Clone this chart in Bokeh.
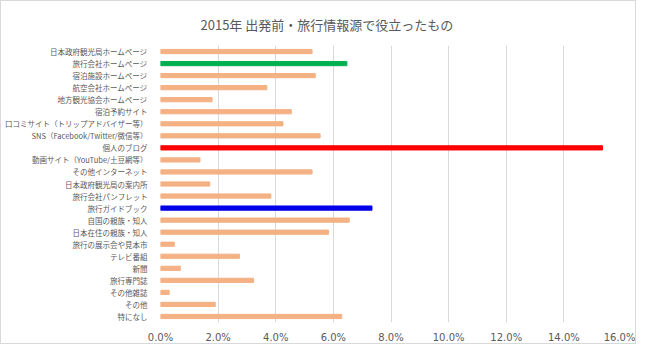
from bokeh.plotting import figure
from bokeh.models import FactorRange, Range1d, FixedTicker, NumeralTickFormatter, ColumnDataSource
from bokeh.embed import file_html
from bokeh.resources import INLINE

title_text = "2015年 出発前・旅行情報源で役立ったもの"

categories = [
    "日本政府観光局ホームページ",
    "旅行会社ホームページ",
    "宿泊施設ホームページ",
    "航空会社ホームページ",
    "地方観光協会ホームページ",
    "宿泊予約サイト",
    "口コミサイト（トリップアドバイザー等）",
    "SNS（Facebook/Twitter/微信等）",
    "個人のブログ",
    "動画サイト（YouTube/土豆網等）",
    "その他インターネット",
    "日本政府観光局の案内所",
    "旅行会社パンフレット",
    "旅行ガイドブック",
    "自国の親族・知人",
    "日本在住の親族・知人",
    "旅行の展示会や見本市",
    "テレビ番組",
    "新聞",
    "旅行専門誌",
    "その他雑誌",
    "その他",
    "特になし",
]

values = [
    0.0526, 0.0647, 0.0537, 0.0369, 0.0179, 0.0454, 0.0425, 0.0554,
    0.1534, 0.0137, 0.0526, 0.0171, 0.0383, 0.0734, 0.0655, 0.0583,
    0.0048, 0.0274, 0.0069, 0.0323, 0.0030, 0.0190, 0.0629,
]

x_ticks = [0.0, 0.02, 0.04, 0.06, 0.08, 0.10, 0.12, 0.14, 0.16]

base_color = "#F4B183"
highlight = {
    "旅行会社ホームページ": "#00B050",
    "個人のブログ": "#FF0000",
    "旅行ガイドブック": "#0000E8",
}
colors = [highlight.get(c, base_color) for c in categories]

source = ColumnDataSource(dict(cat=categories, val=values, color=colors))

p = figure(
    width=636, height=344,
    y_range=FactorRange(factors=list(reversed(categories))),
    x_range=Range1d(0, 0.16),
    output_backend="svg", toolbar_location=None,
    min_border_left=159, min_border_right=16,
    min_border_top=43, min_border_bottom=16,
    background_fill_color="white", border_fill_color="white",
    styles={"border": "1px solid #D9D9D9"},
)

p.hbar(y="cat", right="val", left=0, height=0.35, color="color", source=source)

p.title.text = title_text
p.title.align = "left"
p.title.offset = 40
p.title.standoff = 23
p.title.text_font = "Noto Sans CJK JP"
p.title.text_font_size = "13px"
p.title.text_font_style = "normal"
p.title.text_color = "#595959"

p.outline_line_color = None
p.ygrid.grid_line_color = None
p.xgrid.grid_line_color = "#D9D9D9"
p.xgrid.grid_line_width = 1

p.xaxis.ticker = FixedTicker(ticks=x_ticks)
p.xaxis.formatter = NumeralTickFormatter(format="0.0%")
for ax in (p.xaxis, p.yaxis):
    ax.axis_line_color = None
    ax.major_tick_line_color = None
    ax.minor_tick_line_color = None
    ax.major_label_text_color = "#595959"
p.yaxis.major_label_text_font = "Noto Sans CJK JP"
p.xaxis.major_label_text_font = "DejaVu Sans"
p.xaxis.major_label_text_font_size = "10px"
p.yaxis.major_label_text_font_size = "7.5px"
p.xaxis.major_label_standoff = 3
p.yaxis.major_label_standoff = 7

open("out.html", "w").write(file_html(p, INLINE))
